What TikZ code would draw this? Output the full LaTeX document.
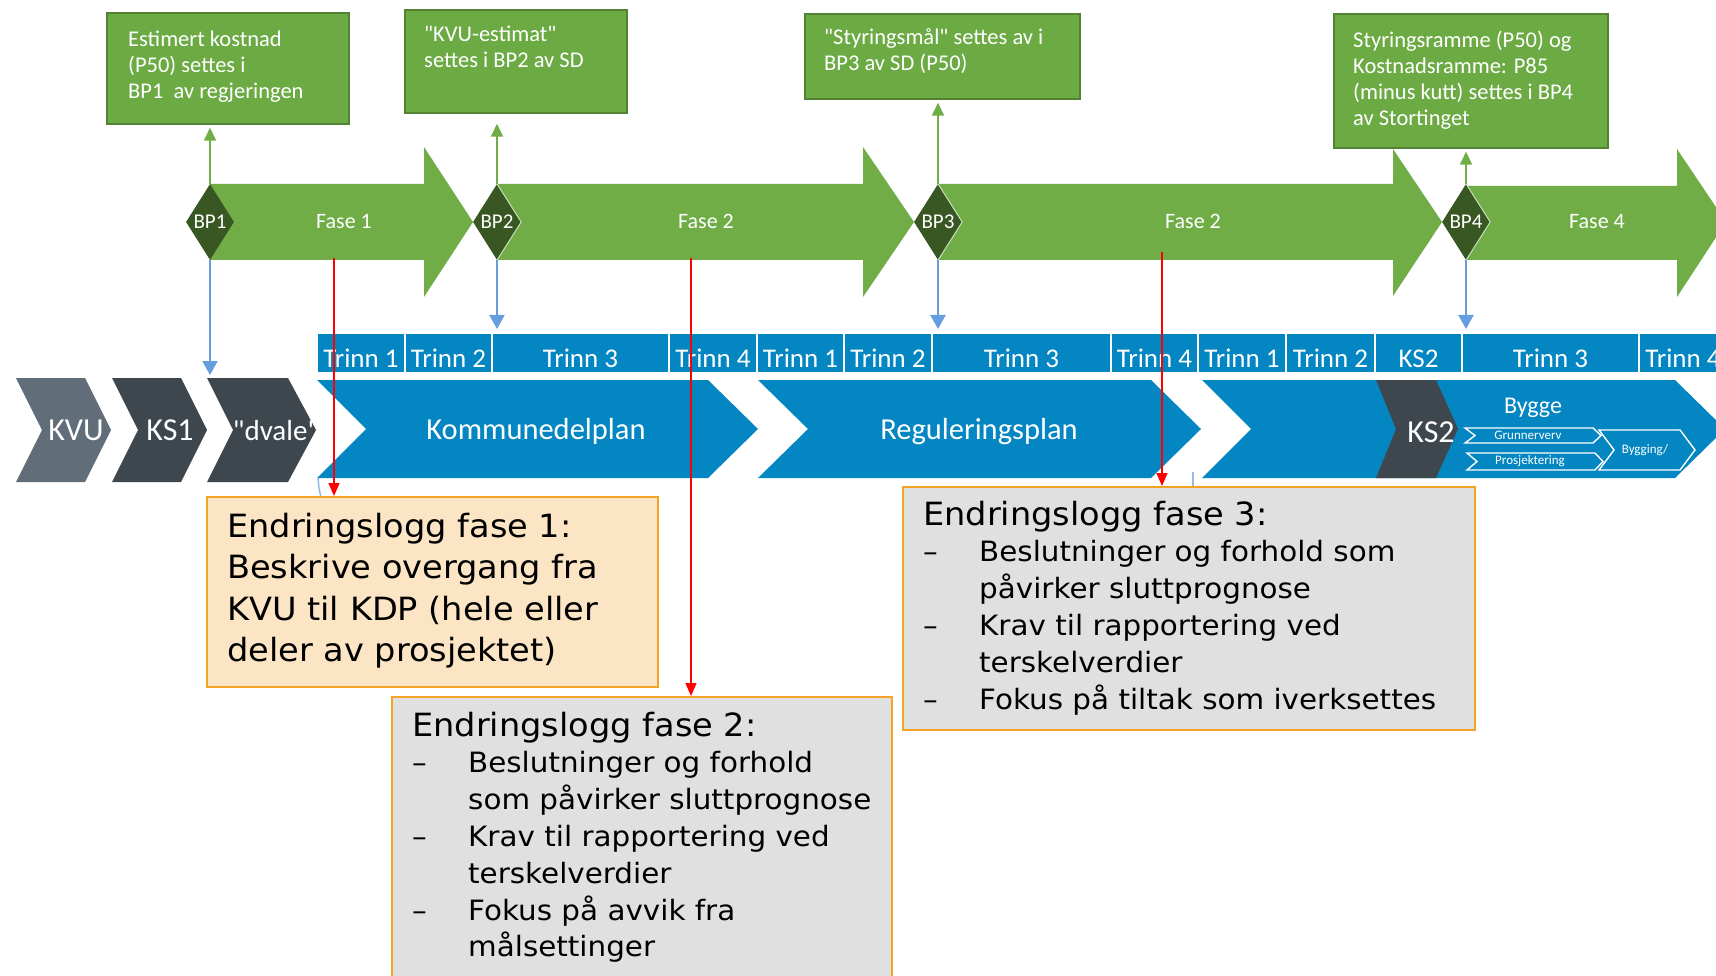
\documentclass[tikz,border=0pt]{standalone}
\usepackage{fontspec}
\setmainfont{Carlito}[Ligatures=TeXOff]
\newfontfamily\logfont[FakeStretch=1.05]{DejaVu Sans}
\usetikzlibrary{arrows.meta,shapes.geometric}

\definecolor{phasegreen}{RGB}{112,173,71}
\definecolor{notegreen}{RGB}{108,170,68}
\definecolor{noteedge}{RGB}{84,130,53}
\definecolor{bpgreen}{RGB}{56,87,35}
\definecolor{bpedge}{RGB}{200,222,190}
\definecolor{planblue}{RGB}{4,134,194}
\definecolor{linkblue}{RGB}{100,158,220}
\definecolor{slate}{RGB}{97,110,122}
\definecolor{darkslate}{RGB}{62,71,78}
\definecolor{logpeach}{RGB}{251,229,197}
\definecolor{loggrey}{RGB}{224,224,224}
\definecolor{logedge}{RGB}{244,163,38}

\tikzset{
  notebox/.style={draw=noteedge, line width=1.5pt, fill=notegreen, inner sep=0pt},
  notetext/.style={anchor=base west, inner sep=0pt, text=white, font=\fontsize{22.5}{26}\selectfont},
  phase/.style={fill=phasegreen},
  phaselabel/.style={anchor=base, inner sep=0pt, text=white, font=\fontsize{22}{22}\selectfont},
  bpnode/.style={diamond, fill=bpgreen, inner sep=0pt, minimum width=48pt, minimum height=76pt, text=white, font=\fontsize{21}{21}\selectfont},
  bprim/.style={draw=bpedge, line width=1pt},
  uplink/.style={draw=phasegreen, line width=2pt, -{Triangle[length=13pt,width=12pt]}, shorten >=3pt},
  downlink/.style={draw=linkblue, line width=2pt, -{Triangle[length=14pt,width=15pt]}, shorten >=3pt},
  trinncell/.style={fill=planblue, draw=white, line width=2pt, minimum height=40pt, inner sep=0pt},
  trinnlabel/.style={anchor=base, inner sep=0pt, text=white, font=\fontsize{27}{27}\selectfont},
  chevlabel/.style={anchor=base, inner sep=0pt, text=white},
  substep/.style={draw=white, line width=1.4pt},
  sublabel/.style={inner sep=0pt, text=white, font=\fontsize{13}{13}\selectfont},
  redlink/.style={draw=red, line width=1.4pt, -{Triangle[length=13pt,width=11pt]}},
  stub/.style={draw=linkblue!70, line width=1.5pt},
  logbox/.style={draw=logedge, line width=2pt, inner sep=0pt},
  logtext/.style={anchor=base west, inner sep=0pt, text=black, font=\logfont},
}

\begin{document}
\begin{tikzpicture}[x=1pt, y=-1pt]
\useasboundingbox (0,0) rectangle (1716,976);
\clip (0,0) rectangle (1716,976);
\fill[white] (0,0) rectangle (1716,976);

% ---- phase arrows ----
\fill[phase] (210,184) -- (424,184) -- (424,147) -- (473,222) -- (424,297) -- (424,260) -- (210,260) -- cycle;
\fill[phase] (497,184) -- (863,184) -- (863,147) -- (914,222) -- (863,297) -- (863,260) -- (497,260) -- cycle;
\fill[phase] (938,184) -- (1393,184) -- (1393,149) -- (1442,222) -- (1393,296) -- (1393,260) -- (938,260) -- cycle;
\fill[phase] (1466,186) -- (1677,186) -- (1677,149) -- (1726,222) -- (1677,297) -- (1677,260) -- (1466,260) -- cycle;

\node[phaselabel] (fase1) at (344,229) {Fase 1};
\node[phaselabel] (fase2a) at (706,229) {Fase 2};
\node[phaselabel] (fase2b) at (1193,229) {Fase 2};
\node[phaselabel] (fase4) at (1597,229) {Fase 4};

% ---- decision points ----
\node[bpnode] (bp1) at (210,222) {BP1};
\node[bpnode] (bp2) at (497,222) {BP2};
\node[bpnode] (bp3) at (938,222) {BP3};
\node[bpnode] (bp4) at (1466,222) {BP4};
\draw[bprim] (bp2.north) -- (bp2.east) -- (bp2.south);
\draw[bprim] (bp3.north) -- (bp3.east) -- (bp3.south);
\draw[bprim] (bp4.north) -- (bp4.east) -- (bp4.south);

% ---- decision notes ----
\node[notebox, minimum width=242pt, minimum height=111pt] (note1) at (228,68.5) {};
\node[notebox, minimum width=222pt, minimum height=103pt] (note2) at (516,61.5) {};
\node[notebox, minimum width=275pt, minimum height=85pt] (note3) at (942.5,56.5) {};
\node[notebox, minimum width=274pt, minimum height=134pt] (note4) at (1471,81) {};

\node[notetext] (note1txt) at (128,46.5) {\begin{tabular}[t]{@{}l@{}}Estimert kostnad\\(P50) settes i\\BP1\ \ av regjeringen\end{tabular}};
\node[notetext] (note2txt) at (424,42) {\begin{tabular}[t]{@{}l@{}}"KVU-estimat"\\settes i BP2 av SD\end{tabular}};
\node[notetext] (note3txt) at (824,45) {\begin{tabular}[t]{@{}l@{}}"Styringsmål" settes av i\\BP3 av SD (P50)\end{tabular}};
\node[notetext] (note4txt) at (1353,48) {\begin{tabular}[t]{@{}l@{}}Styringsramme (P50) og\\Kostnadsramme: P85\\(minus kutt) settes i BP4\\av Stortinget\end{tabular}};

\draw[uplink] (bp1.north) -- (bp1.north |- note1.south);
\draw[uplink, shorten >=10pt] (bp2.north) -- (bp2.north |- note2.south);
\draw[uplink] (bp3.north) -- (bp3.north |- note3.south);
\draw[uplink] (bp4.north) -- (bp4.north |- note4.south);

% ---- step bar ----
\foreach \name/\xa/\xb/\txt in {tr1/317/405/Trinn 1,tr2/405/492/Trinn 2,tr3/492/669/Trinn 3,tr4/669/757/Trinn 4,tr5/757/844/Trinn 1,tr6/844/932/Trinn 2,tr7/932/1111/Trinn 3,tr8/1111/1198/Trinn 4,tr9/1198/1286/Trinn 1,tr10/1286/1375/Trinn 2,tr11/1375/1462/KS2,tr12/1462/1639/Trinn 3,tr13/1639/1727/Trinn 4}
{
  \node[trinncell, minimum width={\xb-\xa}] (\name) at ({(\xa+\xb)/2},353) {};
  \node[trinnlabel] (lbl\name) at ({(\xa+\xb)/2},367) {\txt};
}

% ---- process chevrons ----
\fill[slate] (16,378) -- (85,378) -- (111,430) -- (85,482) -- (16,482) -- (42,430) -- cycle;
\fill[darkslate] (112,378) -- (181,378) -- (207,430) -- (181,482) -- (112,482) -- (138,430) -- cycle;
\fill[darkslate] (207,378) -- (288,378) -- (316,430) -- (288,482) -- (207,482) -- (233,430) -- cycle;
\fill[planblue] (317,380) -- (708,380) -- (758,429) -- (708,478) -- (317,478) -- (366,429) -- cycle;
\fill[planblue] (758,380) -- (1151,380) -- (1201,429) -- (1151,478) -- (758,478) -- (808,429) -- cycle;
\fill[planblue] (1202,380) -- (1675,380) -- (1725,429) -- (1675,478) -- (1202,478) -- (1251,429) -- cycle;
\fill[darkslate] (1376,380) -- (1436,380) -- (1458,429) -- (1436,478) -- (1376,478) -- (1396,429) -- cycle;

\node[chevlabel, font=\fontsize{32}{32}\selectfont] (kvu) at (76,440) {KVU};
\node[chevlabel, font=\fontsize{32}{32}\selectfont] (ks1) at (170,440) {KS1};
\node[chevlabel, font=\fontsize{29}{29}\selectfont] (dvale) at (276,440) {"dvale"};
\node[chevlabel, font=\fontsize{30.5}{30.5}\selectfont] (kdp) at (536,439) {Kommunedelplan};
\node[chevlabel, font=\fontsize{30.5}{30.5}\selectfont] (regplan) at (979,439) {Reguleringsplan};
\node[chevlabel, font=\fontsize{32}{32}\selectfont] (ks2) at (1431,442) {KS2};
\node[chevlabel, font=\fontsize{24}{24}\selectfont] (bygge) at (1533,413) {Bygge};

\draw[substep] (1465,428) -- (1593,428) -- (1601,435.5) -- (1593,443) -- (1465,443) -- (1475,435.5) -- cycle;
\draw[substep] (1467,453) -- (1595,453) -- (1603,461.5) -- (1595,470) -- (1467,470) -- (1477,461.5) -- cycle;
\draw[substep] (1599,430) -- (1680,430) -- (1695,450) -- (1680,470) -- (1599,470) -- (1614,450) -- cycle;
\node[sublabel] (grunn) at (1528,435.5) {Grunnerverv};
\node[sublabel] (prosj) at (1530,461.5) {Prosjektering};
\node[sublabel] (bygging) at (1645,450) {Bygging/};

% ---- links down to the plan ----
\coordinate (dvaletop) at (250,378);
\draw[downlink] (bp1.south) -- (bp1.south |- dvaletop);
\draw[downlink] (bp2.south) -- (bp2.south |- tr2.north);
\draw[downlink] (bp3.south) -- (bp3.south |- tr7.north);
\draw[downlink] (bp4.south) -- (bp4.south |- tr12.north);

% ---- change logs ----
\coordinate (stubAa) at (318,478);
\coordinate (stubAb) at (321,497);
\coordinate (stubBa) at (1193,472);
\coordinate (stubBb) at (1193,487);
\draw[stub] (stubAa) .. controls (319,489) .. (stubAb);
\draw[stub] (stubBa) -- (stubBb);

\node[logbox, fill=logpeach, minimum width=451pt, minimum height=190pt] (log1) at (432.5,592) {};
\node[logbox, fill=loggrey, minimum width=500pt, minimum height=313pt] (log2) at (642,853.5) {};
\node[logbox, fill=loggrey, minimum width=572pt, minimum height=243pt] (log3) at (1189,608.5) {};

\coordinate (r1) at (334,258);
\coordinate (r2) at (691,258);
\coordinate (r3) at (1162,252);
\draw[redlink] (r1) -- (r1 |- log1.north);
\draw[redlink] (r2) -- (r2 |- log2.north);
\draw[redlink] (r3) -- (r3 |- log3.north);

\node[logtext] (log1txt) at (227,537) {\fontsize{32}{41.5}\selectfont
  \begin{tabular}[t]{@{}l@{}}Endringslogg fase 1:\\Beskrive overgang fra\\KVU til KDP (hele eller\\deler av prosjektet)\end{tabular}};

\node[logtext] (log2txt) at (412,736) {\fontsize{28}{36.8}\selectfont
  \begin{tabular}[t]{@{}l@{}l@{}}
  \multicolumn{2}{@{}l@{}}{\fontsize{32}{36.8}\selectfont Endringslogg fase 2:}\\
  \makebox[56pt][l]{–}&Beslutninger og forhold\\
  &som påvirker sluttprognose\\
  \makebox[56pt][l]{–}&Krav til rapportering ved\\
  &terskelverdier\\
  \makebox[56pt][l]{–}&Fokus på avvik fra\\
  &målsettinger
  \end{tabular}};

\node[logtext] (log3txt) at (923,525) {\fontsize{28}{36.8}\selectfont
  \begin{tabular}[t]{@{}l@{}l@{}}
  \multicolumn{2}{@{}l@{}}{\fontsize{32}{36.8}\selectfont Endringslogg fase 3:}\\
  \makebox[56pt][l]{–}&Beslutninger og forhold som\\
  &påvirker sluttprognose\\
  \makebox[56pt][l]{–}&Krav til rapportering ved\\
  &terskelverdier\\
  \makebox[56pt][l]{–}&Fokus på tiltak som iverksettes
  \end{tabular}};
\end{tikzpicture}
\end{document}
